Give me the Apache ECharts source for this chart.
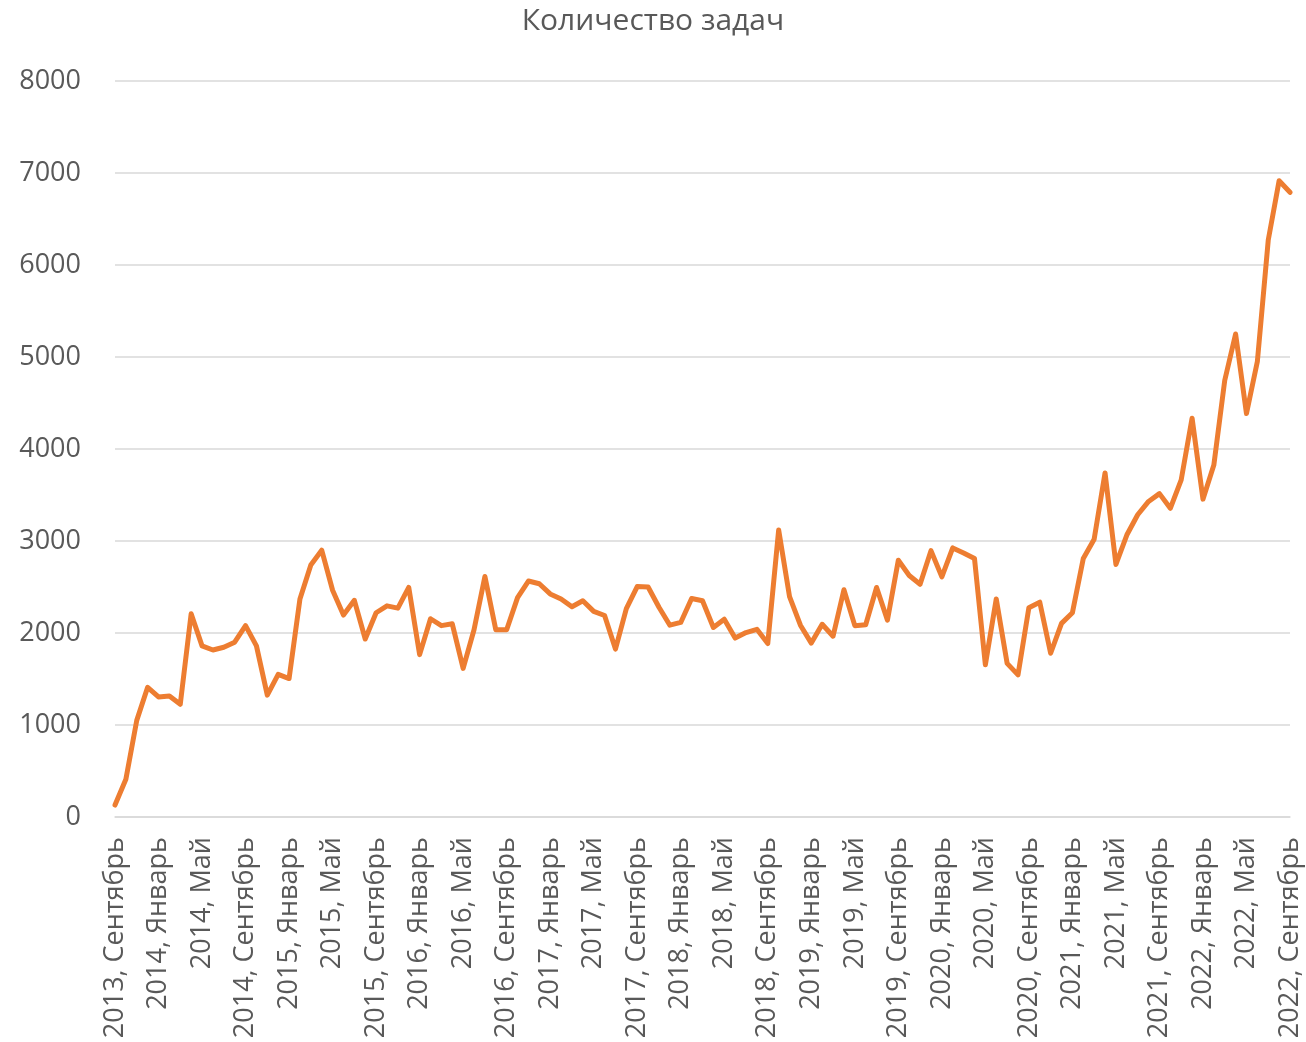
<!DOCTYPE html>
<html>
<head>
<meta charset="utf-8">
<script src="https://cdn.jsdelivr.net/npm/echarts@6/dist/echarts.min.js"></script>
<style>
  html, body { margin: 0; padding: 0; background: #fff; }
  #chart { width: 1306px; height: 1042px; }
</style>
</head>
<body>
<div id="chart"></div>
<script>
var title = 'Количество задач';
var monthNames = ['Январь', 'Февраль', 'Март', 'Апрель', 'Май', 'Июнь',
  'Июль', 'Август', 'Сентябрь', 'Октябрь', 'Ноябрь', 'Декабрь'];
var startYear = 2013;
var startMonth = 8; // Сентябрь (0-based)

// monthly task counts, 2013 Sep .. 2022 Sep
var tasks = [
  130, 410, 1050, 1410, 1305, 1315, 1225, 2210, 1860, 1815,
  1845, 1900, 2080, 1860, 1325, 1550, 1505, 2370, 2740, 2900,
  2465, 2195, 2355, 1935, 2220, 2295, 2270, 2495, 1765, 2155,
  2080, 2100, 1615, 2035, 2615, 2035, 2035, 2385, 2565, 2535,
  2425, 2370, 2285, 2350, 2235, 2190, 1825, 2265, 2505, 2500,
  2280, 2085, 2115, 2375, 2350, 2060, 2150, 1945, 2005, 2040,
  1885, 3120, 2395, 2085, 1890, 2095, 1965, 2470, 2080, 2090,
  2495, 2140, 2790, 2625, 2530, 2895, 2610, 2925, 2870, 2810,
  1655, 2370, 1670, 1545, 2275, 2335, 1780, 2105, 2220, 2810,
  3020, 3740, 2745, 3065, 3285, 3430, 3515, 3355, 3665, 4335,
  3455, 3825, 4745, 5250, 4385, 4950, 6270, 6915, 6790
];

var yMin = 0, yMax = 8000, yStep = 1000;

var categories = [];
for (var i = 0; i < tasks.length; i++) {
  var m = startMonth + i;
  categories.push((startYear + Math.floor(m / 12)) + ', ' + monthNames[m % 12]);
}

var ink = '#595959';
var rule = '#d9d9d9';
var font = '"Open Sans", "Noto Sans", sans-serif';

var chart = echarts.init(document.getElementById('chart'), null, { renderer: 'canvas' });
chart.setOption({
  animation: false,
  title: {
    text: title,
    left: 'center',
    top: 1,
    textStyle: { color: ink, fontSize: 30, fontWeight: 'normal', fontFamily: font }
  },
  grid: { left: 115, right: 16, top: 81, bottom: 225 },
  xAxis: {
    type: 'category',
    data: categories,
    boundaryGap: false,
    axisLine: { lineStyle: { color: rule, width: 1.5 } },
    axisTick: { show: false },
    axisLabel: {
      interval: 3,
      rotate: 90,
      margin: 20,
      color: ink,
      fontSize: 27,
      fontFamily: font
    }
  },
  yAxis: {
    type: 'value',
    min: yMin,
    max: yMax,
    interval: yStep,
    axisLine: { show: false },
    axisTick: { show: false },
    axisLabel: {
      color: ink,
      fontSize: 27,
      fontFamily: font,
      margin: 34,
      formatter: function(v) { return String(v); }
    },
    splitLine: { lineStyle: { color: rule, width: 1.5 } }
  },
  series: [{
    type: 'line',
    data: tasks,
    symbol: 'none',
    lineStyle: { color: '#ED7D31', width: 5, cap: 'round', join: 'round' }
  }]
});
window.addEventListener('resize', function() { chart.resize(); });
</script>
</body>
</html>
